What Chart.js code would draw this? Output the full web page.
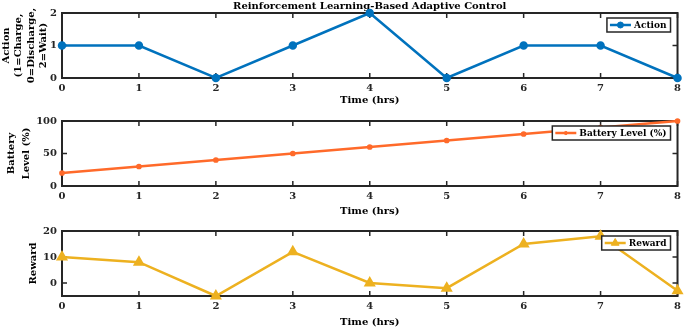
<!DOCTYPE html>
<html>
<head>
<meta charset="utf-8">
<script src="https://cdn.jsdelivr.net/npm/chart.js@4.4.1/dist/chart.umd.min.js"></script>
<style>
  html, body { margin: 0; padding: 0; background: #fff; }
  #wrap { position: relative; width: 685px; height: 330px; }
  .panel { position: absolute; left: 0; width: 685px; height: 110px; }
</style>
</head>
<body>
<div id="wrap">
  <div class="panel" style="top:0"><canvas id="actionChart"></canvas></div>
  <div class="panel" style="top:110px"><canvas id="batteryChart"></canvas></div>
  <div class="panel" style="top:220px"><canvas id="rewardChart"></canvas></div>
</div>
<script>
const hours = [0, 1, 2, 3, 4, 5, 6, 7, 8];
const actions = [1, 1, 0, 1, 2, 0, 1, 1, 0];
const batteryLevel = [20, 30, 40, 50, 60, 70, 80, 90, 100];
const rewards = [10, 8, -5, 12, 0, -2, 15, 18, -3];

const actionTicks = [0, 1, 2];
const batteryTicks = [0, 50, 100];
const rewardTicks = [0, 10, 20];

const axisColor = "#262626";
const fontFamily = '"DejaVu Serif", "Liberation Serif", serif';
const boldFont = { family: fontFamily, size: 10, weight: "bold" };

// MATLAB-like box with inward ticks on all four sides
const boxAxes = {
  id: "boxAxes",
  beforeDatasetsDraw(chart) {
    const { ctx, chartArea: a, scales: { x, y } } = chart;
    ctx.save();
    ctx.strokeStyle = axisColor;
    ctx.lineWidth = 2;
    ctx.strokeRect(a.left, a.top, a.right - a.left, a.bottom - a.top);
    ctx.lineWidth = 1.5;
    ctx.beginPath();
    x.ticks.forEach((t) => {
      const px = x.getPixelForValue(t.value);
      ctx.moveTo(px, a.bottom); ctx.lineTo(px, a.bottom - 5);
      ctx.moveTo(px, a.top); ctx.lineTo(px, a.top + 5);
    });
    y.ticks.forEach((t) => {
      const py = y.getPixelForValue(t.value);
      ctx.moveTo(a.left, py); ctx.lineTo(a.left + 5, py);
      ctx.moveTo(a.right, py); ctx.lineTo(a.right - 5, py);
    });
    ctx.stroke();
    ctx.restore();
  },
};

// boxed legend in the top right corner, drawn over the lines
const boxLegend = {
  id: "boxLegend",
  afterDatasetsDraw(chart) {
    const ds = chart.data.datasets[0];
    const { ctx, chartArea: a } = chart;
    ctx.save();
    ctx.font = `bold 9px ${fontFamily}`;
    const tw = ctx.measureText(ds.label).width;
    const sample = 21, h = 14;
    const w = 3 + sample + 3 + tw + 4;
    const right = a.right - 7, top = a.top + 5, left = right - w;
    ctx.fillStyle = "#fff";
    ctx.fillRect(left, top, w, h);
    ctx.strokeStyle = axisColor;
    ctx.lineWidth = 1.5;
    ctx.strokeRect(left, top, w, h);
    const cy = top + h / 2;
    ctx.strokeStyle = ds.borderColor;
    ctx.lineWidth = ds.borderWidth;
    ctx.beginPath();
    ctx.moveTo(left + 3, cy);
    ctx.lineTo(left + 3 + sample, cy);
    ctx.stroke();
    ctx.fillStyle = ds.borderColor;
    ctx.lineWidth = 1;
    Chart.helpers.drawPoint(ctx, { pointStyle: ds.pointStyle, radius: ds.pointRadius, borderWidth: 1, rotation: 0 }, left + 3 + sample / 2, cy);
    ctx.fillStyle = "#000";
    ctx.textBaseline = "middle";
    ctx.textAlign = "left";
    ctx.fillText(ds.label, left + 6 + sample, cy + 0.5);
    ctx.restore();
  },
};

function makePanel(id, cfg) {
  return new Chart(document.getElementById(id), {
    type: "line",
    data: {
      labels: hours,
      datasets: [
        {
          label: cfg.label,
          data: cfg.values,
          borderColor: cfg.color,
          backgroundColor: cfg.color,
          pointBackgroundColor: cfg.color,
          pointBorderColor: cfg.color,
          pointStyle: cfg.pointStyle,
          pointRadius: cfg.pointRadius,
          borderWidth: 2.5,
          tension: 0,
          clip: false,
        },
      ],
    },
    options: {
      animation: false,
      responsive: true,
      maintainAspectRatio: false,
      layout: { padding: { left: 0, right: 7, top: cfg.padTop, bottom: cfg.padBottom } },
      plugins: {
        legend: { display: false },
        tooltip: { enabled: false },
        title: {
          display: !!cfg.title,
          text: cfg.title,
          fullSize: false,
          color: "#000",
          font: { ...boldFont, lineHeight: 1.2 },
          padding: { top: 0, bottom: 1 },
        },
      },
      scales: {
        x: {
          type: "linear",
          min: 0,
          max: 8,
          afterBuildTicks: (s) => { s.ticks = hours.map((v) => ({ value: v })); },
          afterFit: (s) => { s.height = cfg.xHeight; },
          grid: { display: false, drawTicks: false },
          border: { display: false },
          ticks: { color: axisColor, padding: 4, font: boldFont, maxRotation: 0 },
          title: { display: true, text: "Time (hrs)", color: "#000", font: { ...boldFont, lineHeight: 1.2 }, padding: 0 },
        },
        y: {
          min: cfg.min,
          max: cfg.max,
          afterBuildTicks: (s) => { s.ticks = cfg.ticks.map((v) => ({ value: v })); },
          afterFit: (s) => { s.width = 62; },
          grid: { display: false, drawTicks: false },
          border: { display: false },
          ticks: { color: axisColor, padding: 5, font: boldFont },
          title: {
            display: true,
            text: cfg.yTitle,
            color: "#000",
            font: { ...boldFont, lineHeight: cfg.yLineHeight },
            padding: { top: cfg.yTitlePad, bottom: 0 },
          },
        },
      },
    },
    plugins: [boxAxes, boxLegend],
  });
}

makePanel("actionChart", {
  label: "Action",
  values: actions,
  color: "#0072BD",
  pointStyle: "circle",
  pointRadius: 3,
  min: 0, max: 2, ticks: actionTicks,
  title: "Reinforcement Learning-Based Adaptive Control",
  yTitle: ["Action", "(1=Charge,", "0=Discharge,", "2=Wait)"],
  yLineHeight: 1.25, yTitlePad: 0,
  padTop: 0, padBottom: 4, xHeight: 28,
});

makePanel("batteryChart", {
  label: "Battery Level (%)",
  values: batteryLevel,
  color: "#FF6A2A",
  pointStyle: "circle",
  pointRadius: 1.6,
  min: 0, max: 100, ticks: batteryTicks,
  yTitle: ["Battery", "Level (%)"],
  yLineHeight: 1.5, yTitlePad: 4,
  padTop: 11, padBottom: 3, xHeight: 31,
});

makePanel("rewardChart", {
  label: "Reward",
  values: rewards,
  color: "#EDB120",
  pointStyle: "triangle",
  pointRadius: 4.5,
  min: -5, max: 20, ticks: rewardTicks,
  yTitle: "Reward",
  yLineHeight: 1.2, yTitlePad: 27,
  padTop: 11, padBottom: 2, xHeight: 32,
});
</script>
</body>
</html>
